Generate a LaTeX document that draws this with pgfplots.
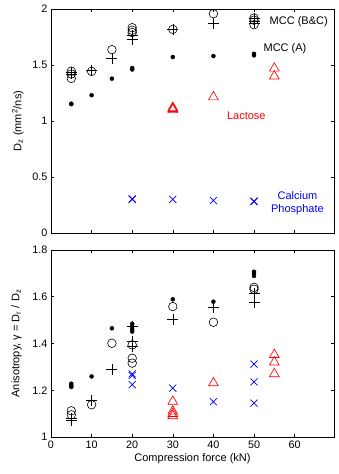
\documentclass[border=0pt]{standalone}
\usepackage{fontspec}
\setmainfont{Liberation Sans}
\usepackage{pgfplots}
\pgfplotsset{compat=1.18}

\definecolor{mred}{RGB}{255,0,0}
\definecolor{mblue}{RGB}{0,0,255}

\pgfplotsset{
  panel/.style={
    scale only axis, width=283pt,
    xmin=0, xmax=69.7, xtick={0,10,...,60},
    tick align=inside, major tick length=3pt,
    minor tick num=0,
    axis line style={line width=0.5pt},
    every tick/.style={black, line width=0.5pt},
    /pgf/number format/assume math mode=true,
    tick label style={font=\fontsize{10.8}{12}\selectfont},
    label style={font=\fontsize{11}{13}\selectfont},
  },
  mccA/.style={only marks, mark=*, mark size=2pt, black},
  mccO/.style={only marks, mark=o, mark size=4.3pt, black, mark options={line width=0.6pt}},
  mccP/.style={only marks, mark=+, mark size=5.5pt, black, mark options={line width=0.6pt}},
  lact/.style={only marks, mark=triangle, mark size=5.6pt, mred, mark options={line width=0.65pt}},
  caph/.style={only marks, mark=x, mark size=5pt, mblue, mark options={line width=0.65pt}},
}

\begin{document}
\begin{tikzpicture}
% top panel: diffusion coefficient
\begin{axis}[panel, height=224pt,
    ymin=0, ymax=2, ytick={0,0.5,1,1.5,2},
    yticklabels={0,0.5,1,1.5,2},
    xticklabels={},
    ylabel={D\textsubscript{z} (mm\textsuperscript{2}/ns)},
    ylabel shift=2pt,
  ]
  \coordinate (tl) at (rel axis cs:0,1);
  \addplot[mccA] coordinates {
    (5,1.155) (5,1.15) (10,1.23) (15,1.378) (20,1.473) (20,1.46)
    (30,1.571) (40,1.58) (50,1.60) (50,1.586)
  };
  \addplot[mccO] coordinates {
    (5,1.445) (5,1.42) (5,1.38) (10,1.443) (15,1.637)
    (20,1.833) (20,1.81) (20,1.79) (30,1.818) (40,1.958)
    (50,1.92) (50,1.90) (50,1.86)
  };
  \addplot[mccP] coordinates {
    (5,1.435) (5,1.42) (10,1.45) (15,1.556) (20,1.765) (20,1.73)
    (30,1.818) (40,1.87) (50,1.915) (50,1.89) (50,1.875)
  };
  \addplot[lact] coordinates {
    (30,1.12) (30,1.11) (30,1.10) (40,1.214) (55,1.47) (55,1.40)
  };
  \addplot[caph] coordinates {
    (20,0.30) (20,0.305) (30,0.30) (40,0.29) (50,0.285) (50,0.28)
  };
  \node[anchor=west, font=\fontsize{11}{13}\selectfont] at (axis cs:53,1.885) {MCC (B\&C)};
  \node[anchor=west, font=\fontsize{11}{13}\selectfont] at (axis cs:51.5,1.646) {MCC (A)};
  \node[anchor=west, text=mred, font=\fontsize{11}{13}\selectfont] at (axis cs:42.5,1.045) {Lactose};
  \node[align=center, text=mblue, font=\fontsize{11}{13}\selectfont] at (axis cs:60.7,0.268) {Calcium\\Phosphate};
\end{axis}

% bottom panel: anisotropy
\begin{axis}[panel, height=187pt, at={(0,-17pt)}, anchor=north west,
    ymin=1, ymax=1.8, ytick={1,1.2,1.4,1.6,1.8},
    yticklabels={1,1.2,1.4,1.6,1.8},
    xticklabels={0,10,20,30,40,50,60},
    xlabel={Compression force (kN)},
    ylabel={Anisotropy, γ = D\textsubscript{r} / D\textsubscript{z}},
    ylabel shift=4pt,
    xlabel style={yshift=2pt},
  ]
  \addplot[mccA] coordinates {
    (5,1.228) (5,1.22) (5,1.214) (10,1.259) (15,1.465)
    (20,1.484) (20,1.473) (20,1.461) (20,1.451)
    (30,1.589) (40,1.579) (50,1.707) (50,1.70) (50,1.689)
  };
  \addplot[mccO] coordinates {
    (5,1.112) (5,1.095) (10,1.138) (15,1.401)
    (20,1.394) (20,1.337) (20,1.316) (30,1.558) (40,1.491)
    (50,1.64) (50,1.632)
  };
  \addplot[mccP] coordinates {
    (5,1.081) (5,1.071) (10,1.157) (15,1.29) (20,1.473) (20,1.409) (20,1.387)
    (30,1.504) (40,1.555) (50,1.615) (50,1.575)
  };
  \addplot[lact] coordinates {
    (30,1.152) (30,1.11) (30,1.10) (30,1.09) (40,1.231)
    (55,1.352) (55,1.32) (55,1.27)
  };
  \addplot[caph] coordinates {
    (20,1.27) (20,1.263) (20,1.224) (30,1.209) (40,1.151)
    (50,1.312) (50,1.236) (50,1.145)
  };
\end{axis}

\pgfresetboundingbox
\path[use as bounding box] (tl) ++(-51pt,9pt) rectangle ++(338pt,-474pt);
\end{tikzpicture}
\end{document}
